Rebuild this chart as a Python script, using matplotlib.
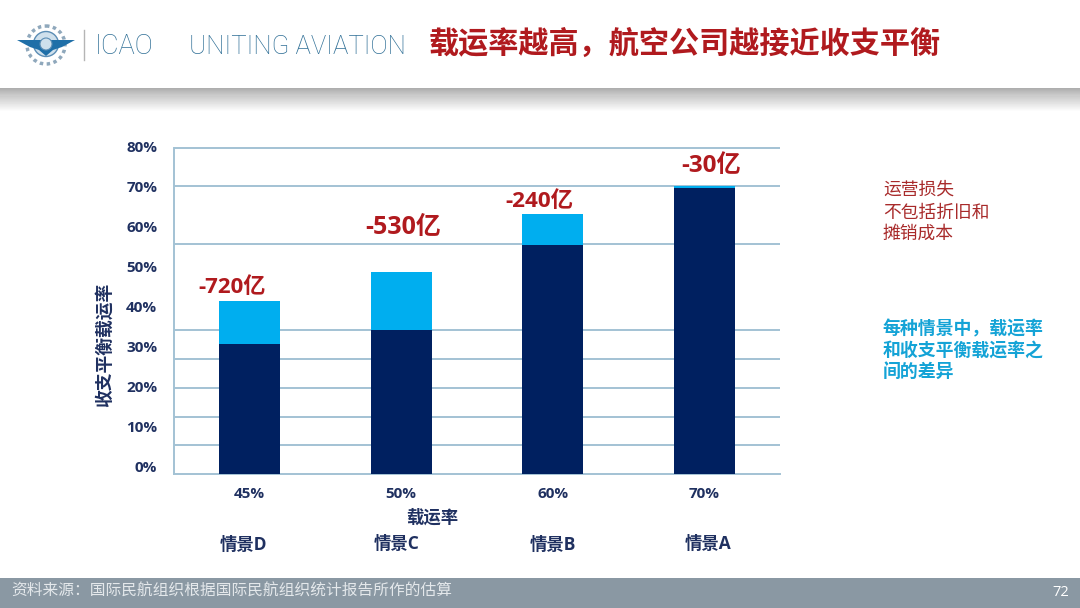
import numpy as np
import matplotlib
matplotlib.use("Agg")
import matplotlib.pyplot as plt
from matplotlib.patches import Circle, Polygon

W, H = 1080, 608
CJK = ['Noto Sans CJK SC', 'DejaVu Sans']
LATIN_CJK = ['Open Sans', 'Noto Sans CJK SC']
plt.rcParams['font.family'] = CJK

# values
load_factors = ['45%', '50%', '60%', '70%']
scenarios = ['情景D', '情景C', '情景B', '情景A']
breakeven = [31.9, 35.3, 56.4, 70.2]
gap = [10.6, 14.3, 7.4, 0.7]
losses = ['-720亿', '-530亿', '-240亿', '-30亿']
grid_values = [7.1, 14.0, 21.1, 28.2, 35.3, 56.6, 70.7, 80.0]
tick_values = [0, 10, 20, 30, 40, 50, 60, 70, 80]

NAVY = '#002060'
SKY = '#00AEEF'
GRID = '#A3C2D4'
TEXT = '#1F3060'
RED = '#B01A1E'

fig = plt.figure(figsize=(W / 100, H / 100), dpi=100, facecolor='white')


def px_text(x, y, s, **kw):
    kw.setdefault('ha', 'center')
    kw.setdefault('va', 'center')
    return fig.text(x / W, 1 - y / H, s, **kw)


def px_axes(x0, y0, x1, y1, **kw):
    return fig.add_axes([x0 / W, 1 - y1 / H, (x1 - x0) / W, (y1 - y0) / H], **kw)


##### page furniture #####
band = px_axes(0, 88, W, 112)
ramp = np.concatenate([np.linspace(0.68, 0.80, 8), np.linspace(0.80, 1.0, 16)])
band.imshow(ramp[:, None], cmap='gray', vmin=0, vmax=1, aspect='auto')
band.axis('off')

foot = px_axes(0, 578, W, H)
foot.set_facecolor('#8A98A3')
foot.set_xticks([])
foot.set_yticks([])
for s in foot.spines.values():
    s.set_visible(False)

# rough emblem
logo = px_axes(14, 20, 78, 70)
logo.set_xlim(14, 78)
logo.set_ylim(70, 20)
logo.axis('off')
logo.add_patch(Circle((46, 45), 19, fc='none', ec='#8FA8BC', lw=2.5, ls=(0, (1, 1))))
logo.add_patch(Circle((46, 44), 12.5, fc='#CFE0EC', ec='#5B8DB5', lw=1))
logo.add_patch(Polygon([[17, 40], [75, 40], [62, 47], [53, 50], [46, 56], [39, 50], [30, 47]],
                       fc='#1F6FA8', ec='none'))
logo.add_patch(Circle((46, 44), 6, fc='#CFE0EC', ec='#5B8DB5', lw=0.8))

fig.add_artist(plt.Line2D([83.5 / W, 83.5 / W], [1 - 30 / H, 1 - 60 / H], color='#B5B5B5', lw=1))
px_text(124, 47, 'ICAO', color='#2F6F96', fontsize=19.5, family='Roboto', fontweight='light')
px_text(297, 47, 'UNITING AVIATION', color='#2F6F96', fontsize=18.5, family='Roboto', fontweight='light')
px_text(685, 44, '载运率越高，航空公司越接近收支平衡', color=RED, fontsize=21.7, fontweight='bold')

px_text(11, 591, '资料来源：国际民航组织根据国际民航组织统计报告所作的估算', ha='left',
        color='#E4E8EB', fontsize=11.3)
px_text(1061, 592, '72', color='white', fontsize=10.5, family='Open Sans')

##### chart #####
ax = px_axes(174, 148.5, 780, 474)
ax.set_xlim(-0.5, 3.5)
ax.set_ylim(0, 80)
x = np.arange(len(breakeven))
ax.bar(x, breakeven, width=0.4, color=NAVY, zorder=3)
ax.bar(x, gap, bottom=breakeven, width=0.4, color=SKY, zorder=3)
ax.hlines(grid_values, -0.5, 3.5, color=GRID, lw=1.4, zorder=1, clip_on=False)
for name in ['top', 'right']:
    ax.spines[name].set_visible(False)
for name in ['left', 'bottom']:
    ax.spines[name].set_color(GRID)
    ax.spines[name].set_linewidth(1.4)
ax.set_xticks(x)
ax.set_xticklabels(load_factors, family='Open Sans', fontweight='bold', fontsize=11, color=TEXT)
ax.tick_params(axis='x', length=0, pad=9)
ax.set_yticks([])

# the printed scale does not line up with the rules, so it gets its own axis
scale = px_axes(174, 140, 780, 474)
scale.patch.set_visible(False)
scale.set_xticks([])
scale.set_yticks(tick_values)
scale.set_ylim(-1.75, 81.62)
scale.set_yticklabels([f'{v}%' for v in tick_values], family='Open Sans', fontweight='bold',
                      fontsize=11, color=TEXT)
scale.tick_params(axis='y', length=0, pad=12)
for s in scale.spines.values():
    s.set_visible(False)

px_text(105, 345, '收支平衡载运率', rotation=90, color=TEXT, fontsize=12.8, fontweight='bold')
px_text(432, 518, '载运率', color=TEXT, fontsize=12.5, fontweight='bold')

scenario_pos = [(243, 545), (397, 544), (553, 545), (708, 544)]
for (sx, sy), s in zip(scenario_pos, scenarios):
    px_text(sx, sy, s, color=TEXT, fontsize=12.5, fontweight='bold', family=LATIN_CJK)

loss_pos = [(232, 288, 16), (403, 228, 18), (539, 201, 16.2), (711, 166, 17.5)]
for (lx, ly, fs), s in zip(loss_pos, losses):
    px_text(lx, ly, s, color=RED, fontsize=fs, fontweight='bold', family=LATIN_CJK)

for y, s in zip([190, 213, 234], ['运营损失', '不包括折旧和', '摊销成本']):
    px_text(883, y, s, ha='left', color='#A82A2A', fontsize=12.8)
for y, s in zip([329, 351, 372], ['每种情景中，载运率', '和收支平衡载运率之', '间的差异']):
    px_text(883, y, s, ha='left', color='#14A3D6', fontsize=12.9, fontweight='bold')

fig.savefig('out.png', dpi=100)
